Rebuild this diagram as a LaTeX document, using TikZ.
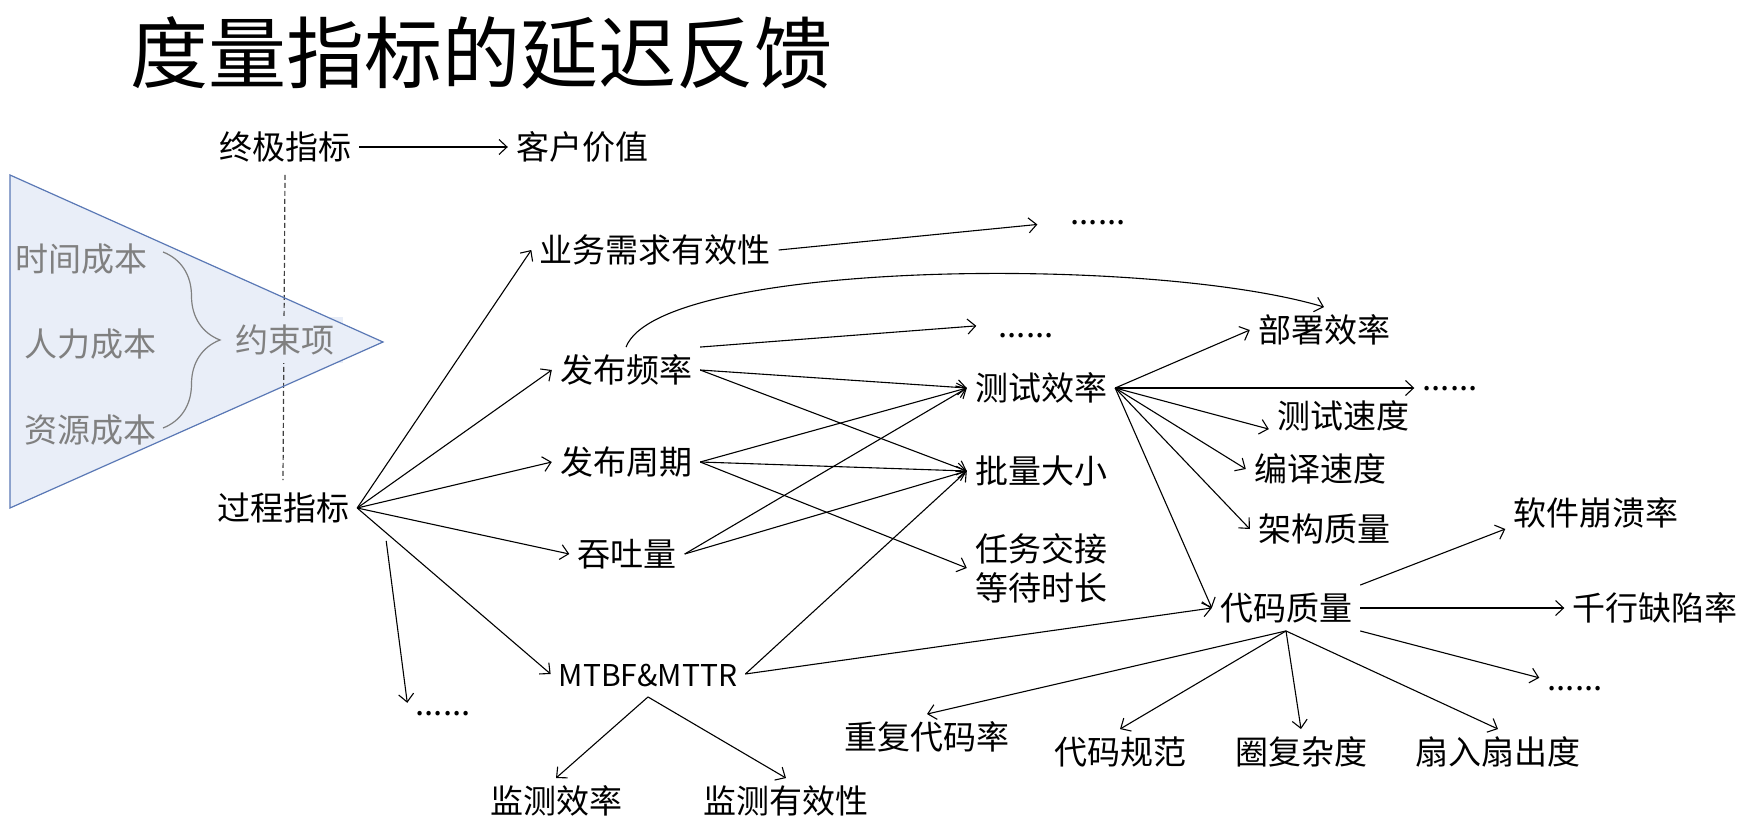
\documentclass[tikz,border=0pt]{standalone}
\usepackage{fontspec}
\newfontfamily\cjk{Noto Sans CJK SC}
\usepackage{tikz}
\usetikzlibrary{arrows.meta,decorations.pathreplacing}
\definecolor{trifill}{HTML}{E9EEF8}
\definecolor{triedge}{HTML}{5A78B5}
\definecolor{costgray}{HTML}{808080}

\begin{document}
\begin{tikzpicture}[x=1pt, y=-1pt,
  >={Straight Barb[length=8pt,width=15pt]},
  lbl/.style={font=\cjk\fontsize{33}{39}\selectfont, inner sep=8pt, text height=27pt, text depth=2.5pt},
  lbltwo/.style={font=\cjk\fontsize{33}{39}\selectfont, inner sep=8pt, align=center},
  cost/.style={lbl, text=costgray},
  dots/.style={font=\cjk\fontsize{33}{39}\selectfont, inner sep=8pt, text height=4pt, text depth=0pt},
  link/.style={->, line width=1.1pt}]
\useasboundingbox (0,0) rectangle (1739,824);

% Title
\node (title) [font=\cjk\fontsize{78}{90}\selectfont, inner sep=0pt] at (481,53) {度量指标的延迟反馈};

% Constraint triangle
\fill[trifill] (10,175) -- (383,342) -- (10,508) -- cycle;
\node (timecost) [cost] at (82,259) {时间成本};
\node (laborcost) [cost] at (90,344) {人力成本};
\node (rescost) [cost] at (90,430) {资源成本};
\draw[costgray, line width=1.2pt, decorate, decoration={brace, amplitude=57pt}] (163,252) -- (163,428);

% Ultimate and process metrics
\node (ultimate) [lbl] at (285,147) {终极指标};
\node (value) [lbl] at (582,147) {客户价值};
\node (process) [lbl] at (283,508) {过程指标};
\draw[black!75, line width=1.2pt, dash pattern=on 5pt off 3pt] ([yshift=-5pt]ultimate.south) -- ([yshift=5pt]process.north);
\node (constraint) [cost, fill=trifill] at (285,340) {约束项};
\draw[triedge, line width=1.2pt] (10,175) -- (383,342) -- (10,508) -- cycle;

% First level
\node (bizvalid) [lbl] at (655,250) {业务需求有效性};
\node (relfreq) [lbl] at (626,370) {发布频率};
\node (relcycle) [lbl] at (626,462) {发布周期};
\node (thruput) [lbl] at (627,554) {吞吐量};
\node (mtbf) [lbl, font=\cjk\fontsize{30}{36}\selectfont] at (648,674) {MTBF\&MTTR};
\node (dotsA) [dots] at (443,713) {......};

% Second level
\node (testeff) [lbl] at (1041,388) {测试效率};
\node (batch) [lbl] at (1041,471) {批量大小};
\node (handoff) [lbltwo] at (1041,568) {任务交接\\等待时长};
\node (dotsB) [dots] at (1098,222) {......};
\node (dotsC) [dots] at (1026,335) {......};

% Third level
\node (deployeff) [lbl] at (1324,330) {部署效率};
\node (testspeed) [lbl] at (1343,416) {测试速度};
\node (buildspeed) [lbl] at (1320,469) {编译速度};
\node (arch) [lbl] at (1324,529) {架构质量};
\node (codeq) [lbl] at (1286,608) {代码质量};
\node (dotsD) [dots] at (1450,388) {......};

% Fourth level
\node (crash) [lbl] at (1596,513) {软件崩溃率};
\node (defect) [lbl] at (1655,608) {千行缺陷率};
\node (dotsE) [dots] at (1575,688) {......};
\node (dupcode) [lbl] at (927,737) {重复代码率};
\node (codestd) [lbl] at (1120,752) {代码规范};
\node (cyclo) [lbl] at (1301,752) {圈复杂度};
\node (fanio) [lbl] at (1498,752) {扇入扇出度};
\node (moneff) [lbl] at (556,801) {监测效率};
\node (monvalid) [lbl] at (786,801) {监测有效性};

% Arrows
\draw[link] (ultimate) -- (value);
\draw[link] (process.east) -- (bizvalid.west);
\draw[link] (process.east) -- (relfreq.west);
\draw[link] (process.east) -- (relcycle.west);
\draw[link] (process.east) -- (thruput.west);
\draw[link] (process.east) -- (mtbf.west);
\draw[link] ([xshift=29pt,yshift=-10pt]process.south east) -- (dotsA.north west);

\draw[link, shorten >=25pt] (bizvalid.east) -- (dotsB.west);
\draw[link] (relfreq.north) .. controls (660,260) and (1150,255) .. (deployeff.north);
\draw[link, shorten >=14pt] (relfreq.north east) -- (dotsC.north west);
\draw[link] (relfreq.east) -- (testeff.west);
\draw[link] (relfreq.east) -- (batch.west);
\draw[link] (relcycle.east) -- (testeff.west);
\draw[link] (relcycle.east) -- (batch.west);
\draw[link] (relcycle.east) -- (handoff.west);
\draw[link] (thruput.east) -- (testeff.west);
\draw[link] (thruput.east) -- (batch.west);
\draw[link] (mtbf.east) -- (batch.west);
\draw[link] (mtbf.east) -- (codeq.west);

\draw[link] (testeff.east) -- (deployeff.west);
\draw[link] (testeff.east) -- (dotsD.west);
\draw[link] (testeff.east) -- (testspeed.190);
\draw[link] (testeff.east) -- (buildspeed.west);
\draw[link] (testeff.east) -- (arch.west);
\draw[link] (testeff.east) -- (codeq.west);

\draw[link] (codeq.north east) -- (crash.190);
\draw[link] (codeq.east) -- (defect.west);
\draw[link] (codeq.south east) -- (dotsE.north west);
\draw[link] (codeq.south) -- (dupcode.north);
\draw[link] (codeq.south) -- (codestd.north);
\draw[link] (codeq.south) -- (cyclo.north);
\draw[link] (codeq.south) -- (fanio.north);

\draw[link] (mtbf.south) -- (moneff.north);
\draw[link] (mtbf.south) -- (monvalid.north);
\end{tikzpicture}
\end{document}
